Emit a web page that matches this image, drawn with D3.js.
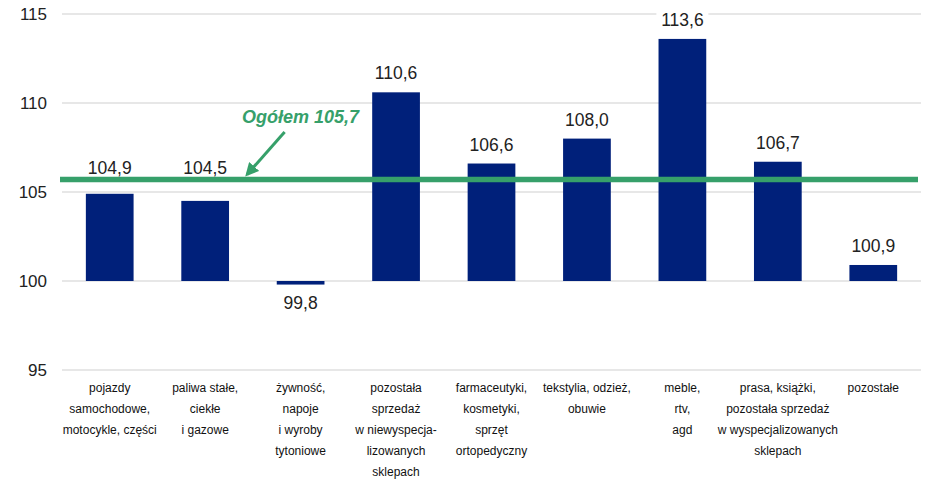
<!DOCTYPE html>
<html>
<head>
<meta charset="utf-8">
<script src="https://cdn.jsdelivr.net/npm/d3@7"></script>
<style>
  body { margin: 0; background: #fff; }
  svg { display: block; font-family: "Liberation Sans", Arial, sans-serif; }
</style>
</head>
<body>
<svg id="chart" width="928" height="481"></svg>
<script>
// data
var categories = [
    ["pojazdy", "samochodowe,", "motocykle, części"],
    ["paliwa stałe,", "ciekłe", "i gazowe"],
    ["żywność,", "napoje", "i wyroby", "tytoniowe"],
    ["pozostała", "sprzedaż", "w niewyspecja-", "lizowanych", "sklepach"],
    ["farmaceutyki,", "kosmetyki,", "sprzęt", "ortopedyczny"],
    ["tekstylia, odzież,", "obuwie"],
    ["meble,", "rtv,", "agd"],
    ["prasa, książki,", "pozostała sprzedaż", "w wyspecjalizowanych", "sklepach"],
    ["pozostałe"]
];
var values = [104.9, 104.5, 99.8, 110.6, 106.6, 108.0, 113.6, 106.7, 100.9];
var yTicks = [95, 100, 105, 110, 115];
var totalValue = 105.7;
var totalLabel = "Ogółem";

var barColor = "#00207a";
var green = "#36a06a";

var svg = d3.select("#chart");
var margin = {top: 14, right: 7, bottom: 111, left: 62};
var width = 928 - margin.left - margin.right;
var height = 481 - margin.top - margin.bottom;

var pl = d3.formatLocale({decimal: ",", thousands: " ", grouping: [3], currency: ["", " zł"]});
var fmt = pl.format(".1f");

var x = d3.scaleBand()
    .domain(d3.range(categories.length))
    .range([0, width])
    .paddingInner(0.5)
    .paddingOuter(0.25);

var y = d3.scaleLinear().domain([95, 115]).range([height, 0]);

var g = svg.append("g").attr("transform", "translate(" + margin.left + "," + margin.top + ")");

// grid
g.append("g")
    .selectAll("line")
    .data(yTicks)
    .join("line")
        .attr("x1", 0)
        .attr("x2", width)
        .attr("y1", function(d) { return y(d); })
        .attr("y2", function(d) { return y(d); })
        .attr("stroke", "#d0d0d0")
        .attr("stroke-width", 1.2);

// y axis labels
var yAxis = g.append("g")
    .call(d3.axisLeft(y).tickValues(yTicks).tickSize(0).tickPadding(15));
yAxis.select(".domain").remove();
yAxis.selectAll("text")
    .attr("font-size", 17)
    .attr("fill", "#222")
    .style("font-family", "'Liberation Sans', Arial, sans-serif");

// bars
g.append("g")
    .selectAll("rect")
    .data(values)
    .join("rect")
        .attr("x", function(d, i) { return x(i); })
        .attr("width", x.bandwidth())
        .attr("y", function(d) { return y(Math.max(d, 100)); })
        .attr("height", function(d) { return Math.abs(y(d) - y(100)); })
        .attr("fill", barColor);

// value labels (white box behind, lifted above the total line when they would hit it)
var yTotal = y(totalValue);
var labels = g.append("g")
    .selectAll("g")
    .data(values)
    .join("g")
        .attr("transform", function(d, i) {
            var ty;
            if (d < 100) {
                ty = y(d) + 24;
            } else {
                ty = y(d) - 13;
                if (ty > yTotal - 12 && ty < yTotal + 25) ty = yTotal - 6;
            }
            return "translate(" + (x(i) + x.bandwidth() / 2) + "," + ty + ")";
        });

labels.append("rect")
    .attr("x", -26)
    .attr("y", -19)
    .attr("width", 52)
    .attr("height", 22)
    .attr("fill", "#fff");

labels.append("text")
    .attr("text-anchor", "middle")
    .attr("font-size", 17.5)
    .attr("fill", "#222")
    .text(function(d) { return fmt(d); });

// category labels
var cats = g.append("g")
    .attr("transform", "translate(0," + (height + 22) + ")")
    .selectAll("text")
    .data(categories)
    .join("text")
        .attr("text-anchor", "middle")
        .attr("font-size", 12)
        .attr("fill", "#111")
        .attr("x", function(d, i) { return x(i) + x.bandwidth() / 2; });

cats.selectAll("tspan")
    .data(function(d) { return d; })
    .join("tspan")
        .attr("x", function() { return d3.select(this.parentNode).attr("x"); })
        .attr("dy", function(d, i) { return i === 0 ? 0 : 21; })
        .text(function(d) { return d; });

// total line
g.append("line")
    .attr("x1", -2)
    .attr("x2", width - 3)
    .attr("y1", yTotal)
    .attr("y2", yTotal)
    .attr("stroke", green)
    .attr("stroke-width", 5.5);

// total label + arrow
svg.append("defs").append("marker")
    .attr("id", "arrow")
    .attr("viewBox", "0 0 10 10")
    .attr("refX", 8)
    .attr("refY", 5)
    .attr("markerWidth", 4.5)
    .attr("markerHeight", 4.5)
    .attr("orient", "auto")
  .append("path")
    .attr("d", "M0,0L10,5L0,10z")
    .attr("fill", green);

var labelX = x(2) + x.bandwidth() / 2;
g.append("text")
    .attr("x", labelX)
    .attr("y", y(110) + 20)
    .attr("text-anchor", "middle")
    .attr("font-size", 18)
    .attr("font-weight", "bold")
    .attr("font-style", "italic")
    .attr("fill", green)
    .text(totalLabel + " " + fmt(totalValue));

g.append("line")
    .attr("x1", labelX - 16)
    .attr("y1", y(110) + 29)
    .attr("x2", x(1) + x.bandwidth() + 18)
    .attr("y2", yTotal - 5)
    .attr("stroke", green)
    .attr("stroke-width", 3)
    .attr("marker-end", "url(#arrow)");
</script>
</body>
</html>
